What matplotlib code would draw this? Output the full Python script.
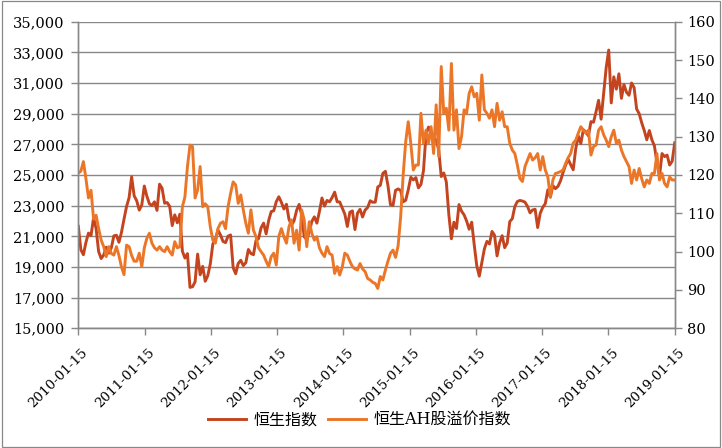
import matplotlib
matplotlib.use('Agg')
import matplotlib.pyplot as plt
import matplotlib.transforms as mtransforms
import pandas as pd
from matplotlib.patches import Rectangle
from matplotlib.ticker import FuncFormatter, MultipleLocator

# roughly two-weekly samples, 2010-01-15 .. 2019-01-15
dates = pd.date_range('2010-01-15', '2019-01-15', periods=236)

# 恒生指数 (left axis)
hsi = [
    21650, 20120, 19800, 20610, 21210, 21050, 22210, 21500, 20000, 19550, 19780, 20290, 19900,
    20250, 21030, 21070, 20610, 21260, 22120, 22940, 23520, 24880, 23640, 23320, 22710, 23040,
    24280, 23620, 23120, 23010, 23250, 22690, 24400, 24140, 23160, 23200, 22950, 21700, 22400,
    21880, 22440, 20030, 19580, 19870, 17670, 17710, 18030, 19840, 18490, 19040, 18070, 18430,
    19200, 20500, 20780, 21410, 21090, 20670, 20590, 21010, 21090, 18950, 18560, 19230, 19440,
    19090, 19280, 20140, 19880, 19800, 20730, 20840, 21550, 21860, 21160, 22030, 22610, 22670,
    23260, 23580, 23220, 22780, 23090, 22120, 21730, 22010, 22690, 23080, 22390, 20970, 20800,
    21280, 21970, 22270, 21860, 22620, 23500, 22970, 23340, 23250, 23530, 23880, 23250, 23240,
    22850, 22450, 21640, 22570, 22660, 21440, 22510, 22760, 22260, 22710, 22880, 23320, 23220,
    23230, 24220, 24330, 25110, 25240, 24310, 23060, 23020, 24000, 24090, 23990, 23250, 23350,
    24030, 24850, 24680, 24830, 24160, 24380, 25280, 27650, 28130, 27820, 27420, 27280, 26660,
    24900, 25130, 24550, 22410, 20840, 21920, 21510, 23070, 22640, 22400, 22000, 21460, 21920,
    20450, 19080, 18400, 19290, 20180, 20670, 20500, 21320, 21070, 19720, 20580, 21040, 20260,
    20560, 21960, 22150, 22940, 23270, 23340, 23300, 23230, 22950, 22530, 22720, 22760, 21570,
    22500, 22890, 23130, 24030, 23550, 24310, 24110, 24260, 24620, 25160, 25640, 26030, 25670,
    25340, 26710, 27560, 27050, 27950, 27810, 27550, 28480, 28440, 29120, 29870, 28640, 30300,
    32000, 33150, 29700, 31400, 30600, 31600, 30000, 30900, 30400, 30200, 31000, 30700, 29300,
    29000, 28400, 27900, 27300, 27900, 27300, 26900, 25800, 24900, 26400, 26200, 26300, 25650,
    25900, 27100,
]

# 恒生AH股溢价指数 (right axis)
ah_premium = [
    120.5, 121.0, 123.5, 119.0, 114.0, 116.0, 108.5, 109.5, 106.0, 103.0, 101.3, 98.7, 101.3,
    99.5, 99.1, 101.3, 99.0, 96.0, 94.0, 101.7, 101.3, 99.0, 97.5, 97.5, 99.6, 96.1,
    101.0, 103.5, 104.8, 102.2, 101.0, 100.4, 101.3, 100.4, 100.0, 101.3, 100.0, 99.1, 102.6,
    101.0, 101.3, 111.7, 114.3, 122.2, 127.8, 127.4, 114.0, 116.1, 122.2, 111.7, 112.5, 111.7,
    106.5, 103.0, 102.2, 106.0, 107.4, 107.8, 106.0, 111.7, 115.2, 118.2, 117.4, 112.6, 114.8,
    110.9, 107.4, 104.8, 110.9, 105.6, 103.9, 101.0, 100.0, 99.1, 97.5, 96.1, 98.7, 99.6,
    96.5, 104.0, 106.0, 103.9, 102.2, 106.5, 108.3, 102.2, 105.6, 100.4, 110.9, 108.3, 101.3,
    107.8, 104.8, 103.0, 103.9, 101.0, 99.6, 98.7, 101.3, 99.5, 99.1, 94.3, 96.1, 93.9,
    96.0, 99.6, 99.1, 97.5, 96.1, 95.5, 95.2, 96.9, 95.5, 94.8, 93.0, 92.6, 92.0,
    91.7, 90.4, 93.5, 92.6, 95.2, 97.5, 99.6, 100.4, 98.5, 101.5, 109.0, 120.0, 128.7,
    133.9, 128.3, 121.3, 122.6, 122.6, 136.1, 128.3, 131.7, 128.3, 132.6, 125.6, 138.3, 124.8,
    148.3, 136.1, 137.4, 131.7, 149.1, 131.7, 137.0, 126.9, 130.0, 137.0, 136.1, 141.3, 143.0,
    140.4, 141.3, 134.3, 146.1, 137.0, 136.1, 134.8, 137.0, 132.6, 138.7, 134.3, 136.5, 132.6,
    132.6, 128.3, 126.5, 125.6, 122.6, 119.1, 118.3, 122.2, 123.9, 125.6, 123.9, 124.5, 125.6,
    121.3, 124.8, 121.3, 119.5, 114.3, 118.7, 120.4, 120.6, 120.9, 121.3, 123.0, 124.5, 125.6,
    128.3, 129.1, 130.9, 132.6, 131.7, 130.9, 131.7, 125.2, 127.4, 127.8, 131.7, 132.6, 130.5,
    129.1, 127.4, 130.0, 131.7, 128.3, 129.1, 126.5, 124.8, 123.5, 122.2, 117.8, 121.3, 118.7,
    121.7, 119.0, 116.9, 118.7, 117.8, 120.4, 120.4, 125.6, 118.7, 120.4, 117.8, 116.9, 119.5,
    118.7, 118.7,
]

tick_dates = pd.to_datetime([f'{y}-01-15' for y in range(2010, 2020)])
left_ticks = list(range(15000, 35001, 2000))
series_names = ['恒生指数', '恒生AH股溢价指数']

red = '#C4441F'
orange = '#EC7627'
grey = '#888888'
serif = 'DejaVu Serif'

fig = plt.figure(figsize=(7.22, 4.48), dpi=100)
ax = fig.add_axes([0.1085, 0.2672, 0.826, 0.6844])
ax2 = ax.twinx()

l1, = ax.plot(dates, hsi, color=red, lw=2.1, solid_joinstyle='round')
l2, = ax2.plot(dates, ah_premium, color=orange, lw=2.1, solid_joinstyle='round')

ax.set_xlim(tick_dates[0], tick_dates[-1])
ax.set_ylim(15000, 35000)
ax2.set_ylim(80, 160)
ax.set_yticks(left_ticks)
ax2.yaxis.set_major_locator(MultipleLocator(10))
ax.yaxis.set_major_formatter(FuncFormatter(lambda v, p: f'{v:,.0f}'))
ax.set_xticks(tick_dates)
ax.set_xticklabels([d.strftime('%Y-%m-%d') for d in tick_dates])

ax.set_axisbelow(True)
ax.yaxis.grid(True, color=grey, lw=1.0)

for a in (ax, ax2):
    a.spines['top'].set_visible(False)
    for s in ('left', 'right', 'bottom'):
        a.spines[s].set_color(grey)
        a.spines[s].set_linewidth(1.0)

ax.tick_params(axis='y', length=5, width=1, color=grey, labelsize=10.5, pad=5)
ax2.tick_params(axis='y', length=5, width=1, color=grey, labelsize=10.5, pad=4)
ax.tick_params(axis='x', length=5, width=1, color=grey, labelsize=9.6, pad=8)

for lab in ax.get_yticklabels() + ax2.get_yticklabels():
    lab.set_fontfamily(serif)
offset = mtransforms.ScaledTranslation(3 / 100, 0, fig.dpi_scale_trans)
for lab in ax.get_xticklabels():
    lab.set_fontfamily(serif)
    lab.set_rotation(45)
    lab.set_ha('right')
    lab.set_va('top')
    lab.set_rotation_mode('anchor')
    lab.set_transform(lab.get_transform() + offset)

fig.legend([l1, l2], series_names, loc='center', bbox_to_anchor=(0.498, 0.062),
           ncol=2, frameon=False, handlelength=2.4, handletextpad=0.5, columnspacing=0.6,
           prop={'family': [serif, 'Noto Sans CJK SC'], 'size': 11.5})

fig.patches.append(Rectangle((1.5 / 722, 1.5 / 448), 718 / 722, 445 / 448,
                             transform=fig.transFigure, fill=False, edgecolor=grey, lw=0.9))

fig.savefig('out.png', dpi=100)
